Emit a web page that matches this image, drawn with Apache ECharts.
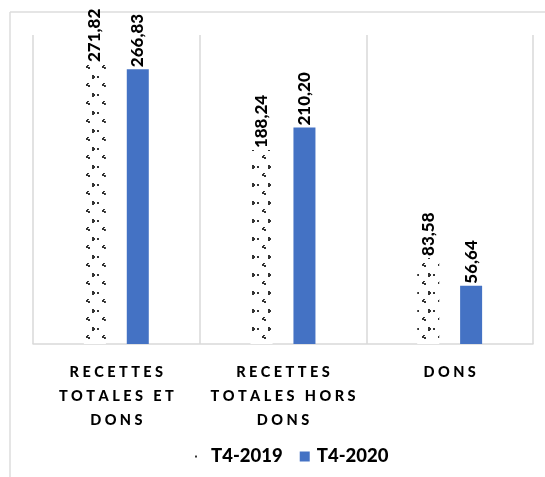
<!DOCTYPE html>
<html>
<head>
<meta charset="utf-8">
<script src="https://cdn.jsdelivr.net/npm/echarts@6/dist/echarts.min.js"></script>
<style>
  html, body { margin: 0; padding: 0; background: #fff; }
  #chart { width: 545px; height: 477px; }
</style>
</head>
<body>
<div id="chart"></div>
<script>
const categories = ['RECETTES TOTALES ET DONS', 'RECETTES TOTALES HORS DONS', 'DONS']
const categoryLines = [
  ['RECETTES', 'TOTALES ET', 'DONS'],
  ['RECETTES', 'TOTALES HORS', 'DONS'],
  ['DONS'],
]
const seriesNames = ['T4-2019', 'T4-2020']
const values2019 = [271.82, 188.24, 83.58]
const values2020 = [266.83, 210.20, 56.64]

const FONT = 'Lato, "Liberation Sans", sans-serif'

// spread letters like the wide character spacing of the original
function spaced(text) {
  return text.split(' ').map((w) => w.split('').join(' ')).join('   ')
}

function makePattern() {
  const c = document.createElement('canvas')
  c.width = 16
  c.height = 18
  const ctx = c.getContext('2d')
  ctx.fillStyle = '#fff'
  ctx.fillRect(0, 0, 16, 18)
  ctx.fillStyle = '#333'
  // small dot at left column
  ctx.fillRect(1, 4, 2, 2)
  // chevron in middle column
  ctx.fillRect(7, 11, 2, 1)
  ctx.fillRect(6, 12, 2, 2)
  ctx.fillRect(8, 13, 2, 2)
  // chevron at right column
  ctx.fillRect(12, 3, 2, 2)
  ctx.fillRect(14, 4, 1, 2)
  ctx.fillRect(12, 5, 2, 2)
  return c
}

const fmt = (v) => v.toFixed(2).replace('.', ',')

const chart = echarts.init(document.getElementById('chart'), null, { renderer: 'canvas' })

const barLabel = {
  show: true,
  position: 'top',
  rotate: 90,
  align: 'left',
  verticalAlign: 'middle',
  distance: 2,
  color: '#000',
  fontFamily: FONT,
  fontWeight: 900,
  fontSize: 17,
  formatter: (p) => fmt(p.value),
}

chart.setOption({
  animation: false,
  graphic: [
    { type: 'line', shape: { x1: 10, y1: 12, x2: 545, y2: 12 }, style: { stroke: '#dcdcdc', lineWidth: 1.5 } },
    { type: 'line', shape: { x1: 10, y1: 12, x2: 10, y2: 477 }, style: { stroke: '#dcdcdc', lineWidth: 1.5 } },
  ],
  legend: {
    bottom: 6,
    left: 189,
    itemWidth: 10,
    itemHeight: 10,
    itemGap: 17,
    textStyle: { color: '#000', fontFamily: FONT, fontWeight: 900, fontSize: 18.5, padding: [0, 0, 0, 2] },
    data: seriesNames.map((n) => ({ name: n, icon: 'rect' })),
  },
  grid: { left: 33, right: 12, top: 35, bottom: 133, containLabel: false },
  xAxis: {
    type: 'category',
    data: categories,
    axisLine: { lineStyle: { color: '#d9d9d9', width: 1.5 } },
    axisTick: { show: false },
    splitLine: { show: true, lineStyle: { color: '#d9d9d9', width: 1.5 } },
    axisLabel: {
      interval: 0,
      margin: 16,
      color: '#000',
      fontFamily: FONT,
      fontWeight: 900,
      fontSize: 14.5,
      lineHeight: 24,
      formatter: (v, i) => categoryLines[i].map(spaced).join('\n'),
    },
  },
  yAxis: {
    type: 'value',
    min: 0,
    max: 300,
    show: false,
    splitLine: { show: false },
  },
  series: [
    {
      name: seriesNames[0],
      type: 'bar',
      barWidth: 22,
      barGap: '95%',
      data: values2019,
      itemStyle: { color: { image: makePattern(), repeat: 'repeat' } },
      label: barLabel,
    },
    {
      name: seriesNames[1],
      type: 'bar',
      barWidth: 22,
      data: values2020,
      itemStyle: { color: '#4472c4' },
      label: barLabel,
    },
  ],
})
</script>
</body>
</html>
